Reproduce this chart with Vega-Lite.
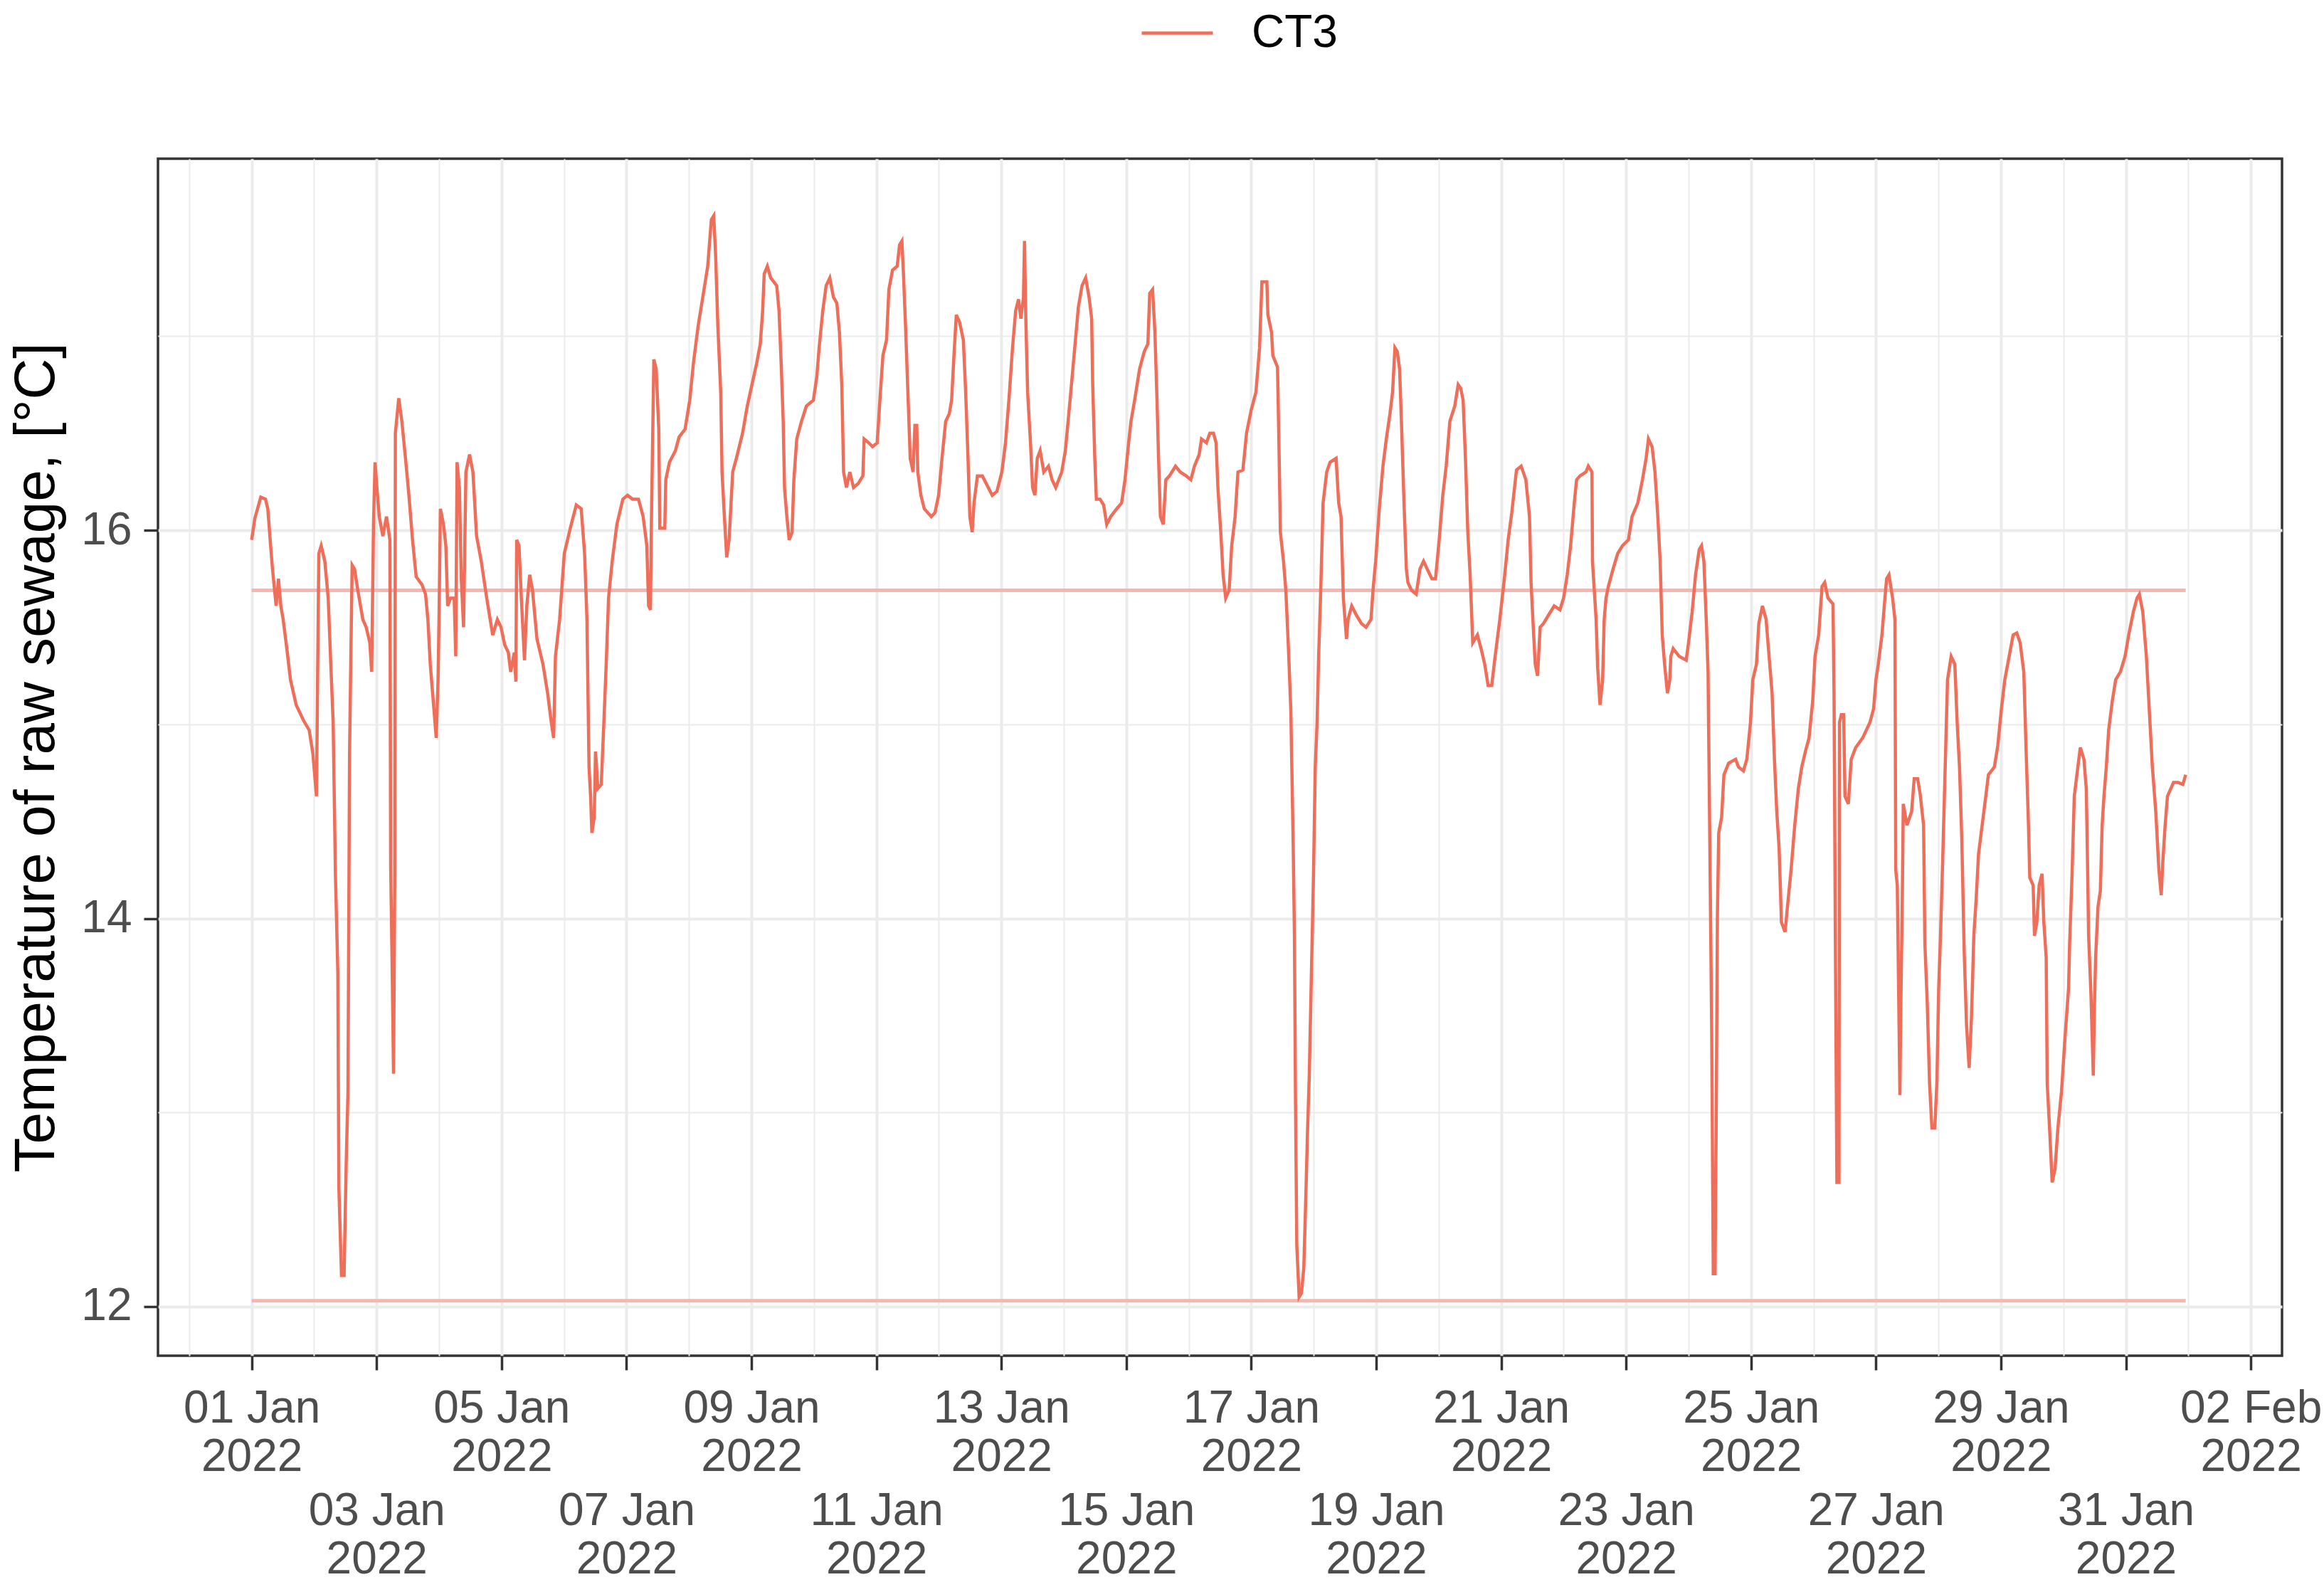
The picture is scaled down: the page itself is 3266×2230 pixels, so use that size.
{
  "$schema": "https://vega.github.io/schema/vega-lite/v6.json",
  "width": 2985,
  "height": 1682,
  "autosize": {"type": "none"},
  "padding": {"left": 222, "top": 223, "right": 59, "bottom": 325},
  "background": "white",
  "datasets": {
    "ref": [
      {"k": "mean", "t": "2022-01-01T00:00", "v": 15.69},
      {"k": "mean", "t": "2022-01-31T23:00", "v": 15.69},
      {"k": "min", "t": "2022-01-01T00:00", "v": 12.03},
      {"k": "min", "t": "2022-01-31T23:00", "v": 12.03}
    ],
    "temp": [
      {"t":"2022-01-01T00:00","v":15.95},{"t":"2022-01-01T01:12","v":16.06},{"t":"2022-01-01T03:30","v":16.17},{"t":"2022-01-01T05:18","v":16.16},{"t":"2022-01-01T06:12","v":16.11},{"t":"2022-01-01T07:06","v":15.95},{"t":"2022-01-01T08:00","v":15.80},{"t":"2022-01-01T09:24","v":15.61},{"t":"2022-01-01T10:18","v":15.75},{"t":"2022-01-01T11:12","v":15.61},{"t":"2022-01-01T12:06","v":15.54},{"t":"2022-01-01T13:30","v":15.39},{"t":"2022-01-01T14:54","v":15.23},{"t":"2022-01-01T17:06","v":15.10},{"t":"2022-01-01T19:54","v":15.02},{"t":"2022-01-01T22:06","v":14.97},{"t":"2022-01-01T23:30","v":14.85},
      {"t":"2022-01-02T00:54","v":14.63},{"t":"2022-01-02T01:18","v":15.20},{"t":"2022-01-02T01:48","v":15.88},{"t":"2022-01-02T02:42","v":15.92},{"t":"2022-01-02T04:06","v":15.84},{"t":"2022-01-02T05:24","v":15.65},{"t":"2022-01-02T06:24","v":15.31},{"t":"2022-01-02T07:18","v":15.01},{"t":"2022-01-02T08:12","v":14.21},{"t":"2022-01-02T09:06","v":13.72},{"t":"2022-01-02T09:30","v":12.61},{"t":"2022-01-02T10:30","v":12.16},{"t":"2022-01-02T11:30","v":12.16},{"t":"2022-01-02T12:18","v":12.73},{"t":"2022-01-02T13:00","v":13.11},{"t":"2022-01-02T13:36","v":14.85},{"t":"2022-01-02T14:06","v":15.35},{"t":"2022-01-02T14:36","v":15.82},{"t":"2022-01-02T15:30","v":15.80},{"t":"2022-01-02T16:48","v":15.69},{"t":"2022-01-02T18:42","v":15.54},{"t":"2022-01-02T20:00","v":15.50},{"t":"2022-01-02T21:24","v":15.42},{"t":"2022-01-02T22:06","v":15.27},{"t":"2022-01-02T22:48","v":16.03},{"t":"2022-01-02T23:24","v":16.35},
      {"t":"2022-01-03T00:06","v":16.22},{"t":"2022-01-03T01:00","v":16.07},{"t":"2022-01-03T02:24","v":15.97},{"t":"2022-01-03T03:48","v":16.07},{"t":"2022-01-03T05:06","v":15.95},{"t":"2022-01-03T05:24","v":14.27},{"t":"2022-01-03T06:00","v":13.72},{"t":"2022-01-03T06:30","v":13.20},{"t":"2022-01-03T07:00","v":14.28},{"t":"2022-01-03T07:12","v":16.50},{"t":"2022-01-03T08:30","v":16.68},{"t":"2022-01-03T09:42","v":16.56},{"t":"2022-01-03T11:06","v":16.37},{"t":"2022-01-03T12:24","v":16.18},{"t":"2022-01-03T13:48","v":15.95},{"t":"2022-01-03T15:12","v":15.76},{"t":"2022-01-03T17:24","v":15.72},{"t":"2022-01-03T18:48","v":15.67},{"t":"2022-01-03T19:42","v":15.54},{"t":"2022-01-03T20:36","v":15.31},{"t":"2022-01-03T22:00","v":15.08},{"t":"2022-01-03T22:54","v":14.93},{"t":"2022-01-03T23:36","v":15.23},
      {"t":"2022-01-04T00:00","v":15.57},{"t":"2022-01-04T00:30","v":16.11},{"t":"2022-01-04T01:42","v":16.03},{"t":"2022-01-04T02:36","v":15.92},{"t":"2022-01-04T03:18","v":15.61},{"t":"2022-01-04T04:24","v":15.65},{"t":"2022-01-04T05:48","v":15.65},{"t":"2022-01-04T06:24","v":15.35},{"t":"2022-01-04T06:54","v":16.35},{"t":"2022-01-04T07:48","v":16.22},{"t":"2022-01-04T08:30","v":15.76},{"t":"2022-01-04T09:24","v":15.50},{"t":"2022-01-04T10:18","v":16.30},{"t":"2022-01-04T11:42","v":16.39},{"t":"2022-01-04T13:00","v":16.30},{"t":"2022-01-04T14:24","v":15.97},{"t":"2022-01-04T16:12","v":15.84},{"t":"2022-01-04T18:18","v":15.65},{"t":"2022-01-04T20:36","v":15.46},{"t":"2022-01-04T22:24","v":15.54},{"t":"2022-01-04T23:48","v":15.50},
      {"t":"2022-01-05T01:12","v":15.41},{"t":"2022-01-05T02:36","v":15.37},{"t":"2022-01-05T03:30","v":15.27},{"t":"2022-01-05T04:54","v":15.37},{"t":"2022-01-05T05:30","v":15.22},{"t":"2022-01-05T05:48","v":15.95},{"t":"2022-01-05T06:42","v":15.92},{"t":"2022-01-05T07:36","v":15.65},{"t":"2022-01-05T08:48","v":15.33},{"t":"2022-01-05T09:42","v":15.61},{"t":"2022-01-05T10:48","v":15.77},{"t":"2022-01-05T11:54","v":15.69},{"t":"2022-01-05T13:36","v":15.44},{"t":"2022-01-05T15:54","v":15.31},{"t":"2022-01-05T17:42","v":15.16},{"t":"2022-01-05T19:06","v":15.01},{"t":"2022-01-05T20:00","v":14.93},{"t":"2022-01-05T20:42","v":15.35},{"t":"2022-01-05T22:18","v":15.54},
      {"t":"2022-01-06T00:06","v":15.88},{"t":"2022-01-06T02:24","v":16.01},{"t":"2022-01-06T04:42","v":16.13},{"t":"2022-01-06T06:36","v":16.11},{"t":"2022-01-06T07:54","v":15.88},{"t":"2022-01-06T08:48","v":15.54},{"t":"2022-01-06T09:36","v":14.78},{"t":"2022-01-06T10:12","v":14.63},{"t":"2022-01-06T10:42","v":14.44},{"t":"2022-01-06T11:36","v":14.52},{"t":"2022-01-06T12:06","v":14.86},{"t":"2022-01-06T13:00","v":14.67},{"t":"2022-01-06T14:18","v":14.69},{"t":"2022-01-06T15:18","v":15.01},{"t":"2022-01-06T16:12","v":15.31},{"t":"2022-01-06T17:06","v":15.65},{"t":"2022-01-06T18:30","v":15.84},{"t":"2022-01-06T20:18","v":16.03},{"t":"2022-01-06T22:36","v":16.16},
      {"t":"2022-01-07T00:24","v":16.18},{"t":"2022-01-07T02:18","v":16.16},{"t":"2022-01-07T04:36","v":16.16},{"t":"2022-01-07T06:24","v":16.07},{"t":"2022-01-07T07:48","v":15.92},{"t":"2022-01-07T08:30","v":15.61},{"t":"2022-01-07T09:12","v":15.59},{"t":"2022-01-07T09:36","v":16.07},{"t":"2022-01-07T10:06","v":16.52},{"t":"2022-01-07T10:30","v":16.88},{"t":"2022-01-07T11:24","v":16.83},{"t":"2022-01-07T12:24","v":16.52},{"t":"2022-01-07T12:48","v":16.01},{"t":"2022-01-07T14:42","v":16.01},{"t":"2022-01-07T15:06","v":16.26},{"t":"2022-01-07T16:30","v":16.35},{"t":"2022-01-07T18:48","v":16.41},{"t":"2022-01-07T20:12","v":16.48},{"t":"2022-01-07T22:30","v":16.52},
      {"t":"2022-01-08T00:18","v":16.67},{"t":"2022-01-08T01:42","v":16.86},{"t":"2022-01-08T03:30","v":17.05},{"t":"2022-01-08T05:18","v":17.20},{"t":"2022-01-08T07:12","v":17.36},{"t":"2022-01-08T08:36","v":17.60},{"t":"2022-01-08T09:30","v":17.62},{"t":"2022-01-08T10:12","v":17.43},{"t":"2022-01-08T11:06","v":17.05},{"t":"2022-01-08T12:12","v":16.71},{"t":"2022-01-08T12:42","v":16.30},{"t":"2022-01-08T13:36","v":16.07},{"t":"2022-01-08T14:30","v":15.86},{"t":"2022-01-08T15:24","v":15.95},{"t":"2022-01-08T16:48","v":16.30},{"t":"2022-01-08T18:12","v":16.37},{"t":"2022-01-08T20:36","v":16.50},{"t":"2022-01-08T22:24","v":16.64},
      {"t":"2022-01-09T00:12","v":16.75},{"t":"2022-01-09T02:00","v":16.86},{"t":"2022-01-09T03:24","v":16.96},{"t":"2022-01-09T04:18","v":17.13},{"t":"2022-01-09T04:54","v":17.32},{"t":"2022-01-09T06:06","v":17.36},{"t":"2022-01-09T07:24","v":17.30},{"t":"2022-01-09T09:42","v":17.26},{"t":"2022-01-09T10:36","v":17.13},{"t":"2022-01-09T11:30","v":16.83},{"t":"2022-01-09T12:12","v":16.56},{"t":"2022-01-09T12:42","v":16.22},{"t":"2022-01-09T13:36","v":16.07},{"t":"2022-01-09T14:30","v":15.95},{"t":"2022-01-09T15:36","v":15.99},{"t":"2022-01-09T16:18","v":16.26},{"t":"2022-01-09T17:24","v":16.47},{"t":"2022-01-09T19:12","v":16.56},{"t":"2022-01-09T21:06","v":16.64},{"t":"2022-01-09T23:48","v":16.67},
      {"t":"2022-01-10T01:06","v":16.79},{"t":"2022-01-10T02:00","v":16.94},{"t":"2022-01-10T03:24","v":17.13},{"t":"2022-01-10T04:42","v":17.26},{"t":"2022-01-10T06:06","v":17.30},{"t":"2022-01-10T07:30","v":17.20},{"t":"2022-01-10T08:48","v":17.17},{"t":"2022-01-10T09:48","v":17.02},{"t":"2022-01-10T10:42","v":16.75},{"t":"2022-01-10T11:24","v":16.30},{"t":"2022-01-10T12:30","v":16.22},{"t":"2022-01-10T13:48","v":16.30},{"t":"2022-01-10T15:12","v":16.22},{"t":"2022-01-10T17:00","v":16.24},{"t":"2022-01-10T18:48","v":16.28},{"t":"2022-01-10T19:18","v":16.47},{"t":"2022-01-10T21:06","v":16.45},{"t":"2022-01-10T22:30","v":16.43},
      {"t":"2022-01-11T00:18","v":16.45},{"t":"2022-01-11T01:12","v":16.64},{"t":"2022-01-11T02:30","v":16.90},{"t":"2022-01-11T03:54","v":16.98},{"t":"2022-01-11T04:48","v":17.24},{"t":"2022-01-11T06:12","v":17.34},{"t":"2022-01-11T08:00","v":17.36},{"t":"2022-01-11T08:54","v":17.47},{"t":"2022-01-11T09:48","v":17.49},{"t":"2022-01-11T10:24","v":17.32},{"t":"2022-01-11T11:12","v":17.05},{"t":"2022-01-11T12:06","v":16.71},{"t":"2022-01-11T13:00","v":16.37},{"t":"2022-01-11T14:06","v":16.30},{"t":"2022-01-11T14:48","v":16.54},{"t":"2022-01-11T15:30","v":16.54},{"t":"2022-01-11T15:54","v":16.30},{"t":"2022-01-11T17:06","v":16.18},{"t":"2022-01-11T18:24","v":16.11},{"t":"2022-01-11T21:06","v":16.07},{"t":"2022-01-11T22:30","v":16.09},{"t":"2022-01-11T23:54","v":16.18},
      {"t":"2022-01-12T01:12","v":16.37},{"t":"2022-01-12T02:36","v":16.56},{"t":"2022-01-12T04:00","v":16.60},{"t":"2022-01-12T04:54","v":16.67},{"t":"2022-01-12T05:48","v":16.90},{"t":"2022-01-12T06:42","v":17.11},{"t":"2022-01-12T08:00","v":17.07},{"t":"2022-01-12T09:24","v":16.98},{"t":"2022-01-12T10:18","v":16.71},{"t":"2022-01-12T11:12","v":16.37},{"t":"2022-01-12T11:54","v":16.07},{"t":"2022-01-12T12:48","v":15.99},{"t":"2022-01-12T13:30","v":16.14},{"t":"2022-01-12T14:48","v":16.28},{"t":"2022-01-12T16:42","v":16.28},{"t":"2022-01-12T20:30","v":16.18},{"t":"2022-01-12T22:18","v":16.20},
      {"t":"2022-01-13T00:12","v":16.30},{"t":"2022-01-13T01:36","v":16.45},{"t":"2022-01-13T02:54","v":16.67},{"t":"2022-01-13T04:18","v":16.94},{"t":"2022-01-13T05:30","v":17.13},{"t":"2022-01-13T06:36","v":17.19},{"t":"2022-01-13T07:30","v":17.09},{"t":"2022-01-13T08:30","v":17.20},{"t":"2022-01-13T08:54","v":17.49},{"t":"2022-01-13T09:24","v":17.09},{"t":"2022-01-13T10:06","v":16.71},{"t":"2022-01-13T11:12","v":16.45},{"t":"2022-01-13T12:00","v":16.22},{"t":"2022-01-13T12:54","v":16.18},{"t":"2022-01-13T13:48","v":16.37},{"t":"2022-01-13T14:54","v":16.41},{"t":"2022-01-13T16:18","v":16.30},{"t":"2022-01-13T18:06","v":16.33},{"t":"2022-01-13T19:30","v":16.26},{"t":"2022-01-13T20:54","v":16.22},{"t":"2022-01-13T23:12","v":16.30},
      {"t":"2022-01-14T00:36","v":16.41},{"t":"2022-01-14T02:24","v":16.67},{"t":"2022-01-14T04:12","v":16.94},{"t":"2022-01-14T05:36","v":17.15},{"t":"2022-01-14T07:00","v":17.26},{"t":"2022-01-14T08:24","v":17.30},{"t":"2022-01-14T09:42","v":17.20},{"t":"2022-01-14T10:42","v":17.09},{"t":"2022-01-14T11:06","v":16.75},{"t":"2022-01-14T11:54","v":16.37},{"t":"2022-01-14T12:30","v":16.16},{"t":"2022-01-14T13:54","v":16.16},{"t":"2022-01-14T15:18","v":16.13},{"t":"2022-01-14T16:30","v":16.03},{"t":"2022-01-14T18:00","v":16.07},{"t":"2022-01-14T20:18","v":16.11},{"t":"2022-01-14T22:12","v":16.14},{"t":"2022-01-14T23:30","v":16.26},
      {"t":"2022-01-15T00:54","v":16.45},{"t":"2022-01-15T01:48","v":16.56},{"t":"2022-01-15T03:12","v":16.67},{"t":"2022-01-15T05:06","v":16.83},{"t":"2022-01-15T06:54","v":16.92},{"t":"2022-01-15T08:18","v":16.96},{"t":"2022-01-15T09:00","v":17.22},{"t":"2022-01-15T10:06","v":17.24},{"t":"2022-01-15T11:00","v":17.02},{"t":"2022-01-15T11:48","v":16.67},{"t":"2022-01-15T12:24","v":16.37},{"t":"2022-01-15T13:06","v":16.07},{"t":"2022-01-15T14:12","v":16.03},{"t":"2022-01-15T15:12","v":16.26},{"t":"2022-01-15T16:36","v":16.28},{"t":"2022-01-15T18:54","v":16.33},{"t":"2022-01-15T20:42","v":16.30},{"t":"2022-01-15T23:00","v":16.28},
      {"t":"2022-01-16T00:48","v":16.26},{"t":"2022-01-16T02:12","v":16.33},{"t":"2022-01-16T04:00","v":16.39},{"t":"2022-01-16T04:54","v":16.47},{"t":"2022-01-16T06:48","v":16.45},{"t":"2022-01-16T08:06","v":16.50},{"t":"2022-01-16T09:30","v":16.50},{"t":"2022-01-16T10:30","v":16.45},{"t":"2022-01-16T11:12","v":16.22},{"t":"2022-01-16T12:18","v":15.99},{"t":"2022-01-16T13:12","v":15.77},{"t":"2022-01-16T14:12","v":15.65},{"t":"2022-01-16T15:30","v":15.69},{"t":"2022-01-16T16:30","v":15.92},{"t":"2022-01-16T17:48","v":16.07},{"t":"2022-01-16T18:54","v":16.30},{"t":"2022-01-16T20:48","v":16.31},{"t":"2022-01-16T22:12","v":16.50},
      {"t":"2022-01-17T00:00","v":16.62},{"t":"2022-01-17T01:48","v":16.71},{"t":"2022-01-17T03:12","v":16.94},{"t":"2022-01-17T04:06","v":17.28},{"t":"2022-01-17T06:00","v":17.28},{"t":"2022-01-17T06:24","v":17.11},{"t":"2022-01-17T07:48","v":17.02},{"t":"2022-01-17T08:18","v":16.90},{"t":"2022-01-17T10:06","v":16.84},{"t":"2022-01-17T10:36","v":16.48},{"t":"2022-01-17T11:12","v":15.99},{"t":"2022-01-17T12:24","v":15.84},{"t":"2022-01-17T13:18","v":15.69},{"t":"2022-01-17T14:18","v":15.39},{"t":"2022-01-17T15:12","v":15.08},{"t":"2022-01-17T16:06","v":14.40},{"t":"2022-01-17T16:36","v":13.91},{"t":"2022-01-17T17:00","v":13.08},{"t":"2022-01-17T17:30","v":12.32},{"t":"2022-01-17T18:24","v":12.05},{"t":"2022-01-17T19:18","v":12.07},{"t":"2022-01-17T20:12","v":12.20},{"t":"2022-01-17T21:00","v":12.58},{"t":"2022-01-17T21:36","v":12.89},{"t":"2022-01-17T22:18","v":13.19},{"t":"2022-01-17T23:00","v":13.64},{"t":"2022-01-17T23:54","v":14.21},
      {"t":"2022-01-18T00:36","v":14.78},{"t":"2022-01-18T01:18","v":15.01},{"t":"2022-01-18T01:54","v":15.35},{"t":"2022-01-18T02:42","v":15.69},{"t":"2022-01-18T03:36","v":16.14},{"t":"2022-01-18T05:00","v":16.30},{"t":"2022-01-18T06:18","v":16.35},{"t":"2022-01-18T08:36","v":16.37},{"t":"2022-01-18T09:36","v":16.14},{"t":"2022-01-18T10:30","v":16.07},{"t":"2022-01-18T11:24","v":15.65},{"t":"2022-01-18T12:36","v":15.44},{"t":"2022-01-18T13:12","v":15.54},{"t":"2022-01-18T14:36","v":15.61},{"t":"2022-01-18T16:30","v":15.56},{"t":"2022-01-18T18:18","v":15.52},{"t":"2022-01-18T20:06","v":15.50},{"t":"2022-01-18T22:00","v":15.54},{"t":"2022-01-18T22:54","v":15.71},{"t":"2022-01-18T23:48","v":15.84},
      {"t":"2022-01-19T01:12","v":16.11},{"t":"2022-01-19T02:36","v":16.33},{"t":"2022-01-19T04:00","v":16.48},{"t":"2022-01-19T05:18","v":16.60},{"t":"2022-01-19T06:18","v":16.71},{"t":"2022-01-19T07:12","v":16.94},{"t":"2022-01-19T08:06","v":16.92},{"t":"2022-01-19T09:00","v":16.83},{"t":"2022-01-19T09:42","v":16.56},{"t":"2022-01-19T10:42","v":16.14},{"t":"2022-01-19T11:36","v":15.80},{"t":"2022-01-19T12:12","v":15.73},{"t":"2022-01-19T13:36","v":15.69},{"t":"2022-01-19T15:24","v":15.67},{"t":"2022-01-19T16:48","v":15.80},{"t":"2022-01-19T18:12","v":15.84},{"t":"2022-01-19T19:36","v":15.80},{"t":"2022-01-19T21:24","v":15.75},{"t":"2022-01-19T22:48","v":15.75},
      {"t":"2022-01-20T00:12","v":15.95},{"t":"2022-01-20T01:36","v":16.18},{"t":"2022-01-20T02:54","v":16.33},{"t":"2022-01-20T04:18","v":16.56},{"t":"2022-01-20T06:12","v":16.64},{"t":"2022-01-20T07:30","v":16.75},{"t":"2022-01-20T08:30","v":16.73},{"t":"2022-01-20T09:24","v":16.67},{"t":"2022-01-20T10:18","v":16.37},{"t":"2022-01-20T11:12","v":15.99},{"t":"2022-01-20T12:06","v":15.77},{"t":"2022-01-20T13:06","v":15.42},{"t":"2022-01-20T14:54","v":15.46},{"t":"2022-01-20T16:18","v":15.39},{"t":"2022-01-20T17:42","v":15.31},{"t":"2022-01-20T19:00","v":15.20},{"t":"2022-01-20T20:24","v":15.20},{"t":"2022-01-20T21:42","v":15.35},{"t":"2022-01-20T23:30","v":15.54},
      {"t":"2022-01-21T01:24","v":15.77},{"t":"2022-01-21T02:42","v":15.95},{"t":"2022-01-21T04:06","v":16.09},{"t":"2022-01-21T05:54","v":16.31},{"t":"2022-01-21T07:42","v":16.33},{"t":"2022-01-21T09:30","v":16.26},{"t":"2022-01-21T10:54","v":16.07},{"t":"2022-01-21T11:30","v":15.73},{"t":"2022-01-21T12:12","v":15.54},{"t":"2022-01-21T13:06","v":15.31},{"t":"2022-01-21T14:00","v":15.25},{"t":"2022-01-21T15:00","v":15.50},{"t":"2022-01-21T16:18","v":15.52},{"t":"2022-01-21T18:06","v":15.56},{"t":"2022-01-21T20:24","v":15.61},{"t":"2022-01-21T22:36","v":15.59},
      {"t":"2022-01-22T00:00","v":15.65},{"t":"2022-01-22T01:24","v":15.77},{"t":"2022-01-22T02:42","v":15.92},{"t":"2022-01-22T04:06","v":16.14},{"t":"2022-01-22T05:00","v":16.26},{"t":"2022-01-22T06:18","v":16.28},{"t":"2022-01-22T08:36","v":16.30},{"t":"2022-01-22T09:30","v":16.33},{"t":"2022-01-22T10:54","v":16.30},{"t":"2022-01-22T11:06","v":15.84},{"t":"2022-01-22T11:48","v":15.69},{"t":"2022-01-22T12:30","v":15.54},{"t":"2022-01-22T13:06","v":15.29},{"t":"2022-01-22T14:00","v":15.10},{"t":"2022-01-22T15:00","v":15.23},{"t":"2022-01-22T15:36","v":15.54},{"t":"2022-01-22T16:18","v":15.65},{"t":"2022-01-22T17:12","v":15.71},{"t":"2022-01-22T19:00","v":15.80},{"t":"2022-01-22T20:48","v":15.88},{"t":"2022-01-22T22:36","v":15.92},
      {"t":"2022-01-23T00:54","v":15.95},{"t":"2022-01-23T02:18","v":16.07},{"t":"2022-01-23T04:30","v":16.14},{"t":"2022-01-23T06:18","v":16.26},{"t":"2022-01-23T07:42","v":16.37},{"t":"2022-01-23T08:36","v":16.47},{"t":"2022-01-23T10:00","v":16.43},{"t":"2022-01-23T11:06","v":16.30},{"t":"2022-01-23T12:12","v":16.07},{"t":"2022-01-23T13:06","v":15.84},{"t":"2022-01-23T13:54","v":15.46},{"t":"2022-01-23T14:48","v":15.31},{"t":"2022-01-23T15:54","v":15.16},{"t":"2022-01-23T16:48","v":15.23},{"t":"2022-01-23T17:12","v":15.35},{"t":"2022-01-23T18:06","v":15.39},{"t":"2022-01-23T20:24","v":15.35},{"t":"2022-01-23T23:06","v":15.33},
      {"t":"2022-01-24T00:00","v":15.42},{"t":"2022-01-24T01:24","v":15.58},{"t":"2022-01-24T02:42","v":15.77},{"t":"2022-01-24T04:06","v":15.90},{"t":"2022-01-24T05:00","v":15.92},{"t":"2022-01-24T05:54","v":15.84},{"t":"2022-01-24T06:48","v":15.54},{"t":"2022-01-24T07:30","v":15.27},{"t":"2022-01-24T08:12","v":14.36},{"t":"2022-01-24T08:54","v":13.42},{"t":"2022-01-24T09:30","v":12.17},{"t":"2022-01-24T10:12","v":12.17},{"t":"2022-01-24T10:42","v":13.11},{"t":"2022-01-24T11:06","v":14.02},{"t":"2022-01-24T11:36","v":14.44},{"t":"2022-01-24T12:42","v":14.52},{"t":"2022-01-24T13:36","v":14.74},{"t":"2022-01-24T15:24","v":14.80},{"t":"2022-01-24T18:06","v":14.82},{"t":"2022-01-24T19:12","v":14.78},{"t":"2022-01-24T21:06","v":14.76},{"t":"2022-01-24T22:24","v":14.82},{"t":"2022-01-24T23:48","v":15.01},
      {"t":"2022-01-25T00:42","v":15.23},{"t":"2022-01-25T02:06","v":15.31},{"t":"2022-01-25T03:00","v":15.52},{"t":"2022-01-25T04:24","v":15.61},{"t":"2022-01-25T05:48","v":15.54},{"t":"2022-01-25T06:42","v":15.39},{"t":"2022-01-25T08:06","v":15.16},{"t":"2022-01-25T09:00","v":14.82},{"t":"2022-01-25T09:54","v":14.55},{"t":"2022-01-25T10:48","v":14.36},{"t":"2022-01-25T11:42","v":13.98},{"t":"2022-01-25T13:06","v":13.93},{"t":"2022-01-25T14:00","v":14.06},{"t":"2022-01-25T15:24","v":14.25},{"t":"2022-01-25T16:48","v":14.48},{"t":"2022-01-25T18:12","v":14.67},{"t":"2022-01-25T19:30","v":14.78},{"t":"2022-01-25T20:54","v":14.86},{"t":"2022-01-25T22:18","v":14.93},{"t":"2022-01-25T23:42","v":15.12},
      {"t":"2022-01-26T00:36","v":15.35},{"t":"2022-01-26T02:00","v":15.46},{"t":"2022-01-26T03:18","v":15.71},{"t":"2022-01-26T04:18","v":15.73},{"t":"2022-01-26T05:36","v":15.65},{"t":"2022-01-26T07:30","v":15.62},{"t":"2022-01-26T07:54","v":15.16},{"t":"2022-01-26T08:24","v":13.91},{"t":"2022-01-26T09:00","v":12.64},{"t":"2022-01-26T09:48","v":12.64},{"t":"2022-01-26T10:00","v":15.01},{"t":"2022-01-26T10:42","v":15.05},{"t":"2022-01-26T11:36","v":15.05},{"t":"2022-01-26T12:06","v":14.63},{"t":"2022-01-26T13:24","v":14.59},{"t":"2022-01-26T14:30","v":14.82},{"t":"2022-01-26T16:12","v":14.88},{"t":"2022-01-26T18:54","v":14.93},{"t":"2022-01-26T21:42","v":15.01},{"t":"2022-01-26T23:06","v":15.08},
      {"t":"2022-01-27T00:00","v":15.23},{"t":"2022-01-27T00:54","v":15.31},{"t":"2022-01-27T02:18","v":15.46},{"t":"2022-01-27T03:12","v":15.61},{"t":"2022-01-27T04:06","v":15.75},{"t":"2022-01-27T05:00","v":15.77},{"t":"2022-01-27T06:24","v":15.65},{"t":"2022-01-27T07:18","v":15.54},{"t":"2022-01-27T07:36","v":14.25},{"t":"2022-01-27T08:12","v":14.17},{"t":"2022-01-27T08:42","v":13.64},{"t":"2022-01-27T09:12","v":13.09},{"t":"2022-01-27T09:36","v":13.60},{"t":"2022-01-27T10:06","v":14.06},{"t":"2022-01-27T10:30","v":14.59},{"t":"2022-01-27T11:54","v":14.48},{"t":"2022-01-27T13:42","v":14.55},{"t":"2022-01-27T14:42","v":14.72},{"t":"2022-01-27T16:00","v":14.72},{"t":"2022-01-27T17:00","v":14.64},{"t":"2022-01-27T18:18","v":14.48},{"t":"2022-01-27T18:48","v":13.87},{"t":"2022-01-27T19:42","v":13.57},{"t":"2022-01-27T20:36","v":13.15},{"t":"2022-01-27T21:30","v":12.92},{"t":"2022-01-27T22:36","v":12.92},{"t":"2022-01-27T23:24","v":13.15},
      {"t":"2022-01-28T00:06","v":13.64},{"t":"2022-01-28T00:48","v":13.91},{"t":"2022-01-28T01:42","v":14.33},{"t":"2022-01-28T02:36","v":14.78},{"t":"2022-01-28T03:30","v":15.23},{"t":"2022-01-28T04:54","v":15.35},{"t":"2022-01-28T06:18","v":15.31},{"t":"2022-01-28T07:12","v":15.01},{"t":"2022-01-28T08:06","v":14.78},{"t":"2022-01-28T09:00","v":14.40},{"t":"2022-01-28T09:54","v":13.83},{"t":"2022-01-28T10:48","v":13.45},{"t":"2022-01-28T11:48","v":13.23},{"t":"2022-01-28T12:42","v":13.49},{"t":"2022-01-28T13:36","v":13.91},{"t":"2022-01-28T14:30","v":14.10},{"t":"2022-01-28T15:24","v":14.33},{"t":"2022-01-28T16:48","v":14.48},{"t":"2022-01-28T18:12","v":14.63},{"t":"2022-01-28T19:12","v":14.74},{"t":"2022-01-28T21:30","v":14.78},{"t":"2022-01-28T22:48","v":14.89},
      {"t":"2022-01-29T00:12","v":15.08},{"t":"2022-01-29T01:30","v":15.23},{"t":"2022-01-29T02:54","v":15.33},{"t":"2022-01-29T04:42","v":15.46},{"t":"2022-01-29T06:06","v":15.47},{"t":"2022-01-29T07:24","v":15.42},{"t":"2022-01-29T08:48","v":15.27},{"t":"2022-01-29T09:42","v":14.86},{"t":"2022-01-29T10:36","v":14.48},{"t":"2022-01-29T11:06","v":14.21},{"t":"2022-01-29T12:24","v":14.17},{"t":"2022-01-29T12:54","v":13.91},{"t":"2022-01-29T13:48","v":13.98},{"t":"2022-01-29T14:42","v":14.17},{"t":"2022-01-29T15:48","v":14.23},{"t":"2022-01-29T16:30","v":13.98},{"t":"2022-01-29T17:24","v":13.80},{"t":"2022-01-29T17:48","v":13.15},{"t":"2022-01-29T18:48","v":12.89},{"t":"2022-01-29T19:42","v":12.64},{"t":"2022-01-29T20:48","v":12.71},{"t":"2022-01-29T21:54","v":12.92},{"t":"2022-01-29T23:18","v":13.11},
      {"t":"2022-01-30T00:36","v":13.38},{"t":"2022-01-30T02:00","v":13.64},{"t":"2022-01-30T02:24","v":13.87},{"t":"2022-01-30T03:18","v":14.21},{"t":"2022-01-30T04:12","v":14.63},{"t":"2022-01-30T05:12","v":14.74},{"t":"2022-01-30T06:30","v":14.88},{"t":"2022-01-30T07:54","v":14.82},{"t":"2022-01-30T08:48","v":14.67},{"t":"2022-01-30T09:12","v":14.36},{"t":"2022-01-30T09:42","v":13.91},{"t":"2022-01-30T10:36","v":13.61},{"t":"2022-01-30T11:30","v":13.19},{"t":"2022-01-30T11:54","v":13.53},{"t":"2022-01-30T12:24","v":13.80},{"t":"2022-01-30T13:18","v":14.06},{"t":"2022-01-30T14:12","v":14.14},{"t":"2022-01-30T14:54","v":14.48},{"t":"2022-01-30T15:36","v":14.63},{"t":"2022-01-30T16:30","v":14.78},{"t":"2022-01-30T17:24","v":14.97},{"t":"2022-01-30T18:48","v":15.12},{"t":"2022-01-30T20:06","v":15.23},{"t":"2022-01-30T21:54","v":15.27},{"t":"2022-01-30T23:42","v":15.35},
      {"t":"2022-01-31T01:06","v":15.46},{"t":"2022-01-31T02:54","v":15.58},{"t":"2022-01-31T04:18","v":15.65},{"t":"2022-01-31T05:12","v":15.67},{"t":"2022-01-31T06:30","v":15.58},{"t":"2022-01-31T07:54","v":15.35},{"t":"2022-01-31T09:06","v":15.05},{"t":"2022-01-31T10:12","v":14.78},{"t":"2022-01-31T11:30","v":14.55},{"t":"2022-01-31T12:42","v":14.25},{"t":"2022-01-31T13:36","v":14.12},{"t":"2022-01-31T14:12","v":14.29},{"t":"2022-01-31T15:06","v":14.48},{"t":"2022-01-31T16:00","v":14.63},{"t":"2022-01-31T18:18","v":14.70},{"t":"2022-01-31T20:06","v":14.70},{"t":"2022-01-31T21:54","v":14.69},{"t":"2022-01-31T23:00","v":14.74}
    ]
  },
  "encoding": {
    "x": {
      "field": "t",
      "type": "temporal",
      "title": null,
      "scale": {
        "domain": [{"year": 2021, "month": 12, "date": 30, "hours": 12}, {"year": 2022, "month": 2, "date": 2, "hours": 12}],
        "nice": false
      },
      "axis": {
        "values": [
          {"year": 2021, "month": 12, "date": 31},
          {"year": 2022, "month": 1, "date": 1}, {"year": 2022, "month": 1, "date": 2}, {"year": 2022, "month": 1, "date": 3}, {"year": 2022, "month": 1, "date": 4}, {"year": 2022, "month": 1, "date": 5}, {"year": 2022, "month": 1, "date": 6}, {"year": 2022, "month": 1, "date": 7}, {"year": 2022, "month": 1, "date": 8}, {"year": 2022, "month": 1, "date": 9}, {"year": 2022, "month": 1, "date": 10},
          {"year": 2022, "month": 1, "date": 11}, {"year": 2022, "month": 1, "date": 12}, {"year": 2022, "month": 1, "date": 13}, {"year": 2022, "month": 1, "date": 14}, {"year": 2022, "month": 1, "date": 15}, {"year": 2022, "month": 1, "date": 16}, {"year": 2022, "month": 1, "date": 17}, {"year": 2022, "month": 1, "date": 18}, {"year": 2022, "month": 1, "date": 19}, {"year": 2022, "month": 1, "date": 20},
          {"year": 2022, "month": 1, "date": 21}, {"year": 2022, "month": 1, "date": 22}, {"year": 2022, "month": 1, "date": 23}, {"year": 2022, "month": 1, "date": 24}, {"year": 2022, "month": 1, "date": 25}, {"year": 2022, "month": 1, "date": 26}, {"year": 2022, "month": 1, "date": 27}, {"year": 2022, "month": 1, "date": 28}, {"year": 2022, "month": 1, "date": 29}, {"year": 2022, "month": 1, "date": 30},
          {"year": 2022, "month": 1, "date": 31}, {"year": 2022, "month": 2, "date": 1}, {"year": 2022, "month": 2, "date": 2}
        ],
        "labelExpr": "round((datum.value - datetime(2022, 0, 1)) / 86400000) % 2 == 0 ? [timeFormat(datum.value, '%d %b'), timeFormat(datum.value, '%Y')] : ''",
        "labelPadding": {"condition": {"test": "round((datum.value - datetime(2022, 0, 1)) / 86400000) % 4 == 2", "value": 166}, "value": 22},
        "labelLineHeight": 68,
        "labelLimit": 2000,
        "labelOverlap": false,
        "labelFlush": false,
        "labelBound": false,
        "labelAlign": "center",
        "labelBaseline": "top",
        "gridWidth": {"condition": {"test": "round((datum.value - datetime(2022, 0, 1)) / 86400000) % 2 == 0", "value": 4}, "value": 2},
        "tickOpacity": {"condition": {"test": "round((datum.value - datetime(2022, 0, 1)) / 86400000) % 2 == 0", "value": 1}, "value": 0}
      }
    },
    "y": {
      "field": "v",
      "type": "quantitative",
      "title": "Temperature of raw sewage, [°C]",
      "scale": {"domain": [11.747, 17.914], "nice": false, "zero": false},
      "axis": {
        "values": [12, 13, 14, 15, 16, 17],
        "labelExpr": "datum.value % 2 == 0 ? datum.label : ''",
        "labelPadding": 17,
        "titlePadding": 21,
        "gridWidth": {"condition": {"test": "datum.value % 2 == 0", "value": 4}, "value": 2},
        "tickOpacity": {"condition": {"test": "datum.value % 2 == 0", "value": 1}, "value": 0}
      }
    }
  },
  "layer": [
    {
      "data": {"name": "ref"},
      "mark": {"type": "line", "color": "#FAB4AE", "strokeWidth": 5},
      "encoding": {"detail": {"field": "k", "type": "nominal"}}
    },
    {
      "data": {"name": "temp"},
      "mark": {"type": "line", "strokeWidth": 4.5},
      "encoding": {
        "color": {
          "datum": "CT3",
          "type": "nominal",
          "scale": {"domain": ["CT3"], "range": ["#EF6E5A"]},
          "legend": {
            "title": null,
            "orient": "none",
            "legendX": 1380,
            "legendY": -229,
            "direction": "horizontal",
            "symbolType": "stroke",
            "symbolSize": 10000,
            "symbolStrokeWidth": 4.5,
            "labelFont": "Liberation Sans",
            "labelFontSize": 64,
            "labelColor": "#000000",
            "labelOffset": 52,
            "padding": 0
          }
        }
      }
    }
  ],
  "config": {
    "view": {"stroke": "#333333", "strokeWidth": 3.5},
    "font": "Liberation Sans",
    "axis": {
      "domain": false,
      "grid": true,
      "gridColor": "#EBEBEB",
      "tickColor": "#333333",
      "tickWidth": 3.5,
      "tickSize": 20,
      "labelFont": "Liberation Sans",
      "labelFontSize": 64,
      "labelColor": "#4D4D4D",
      "titleFont": "Liberation Sans",
      "titleFontSize": 80,
      "titleFontWeight": "normal",
      "titleColor": "#000000"
    }
  }
}
